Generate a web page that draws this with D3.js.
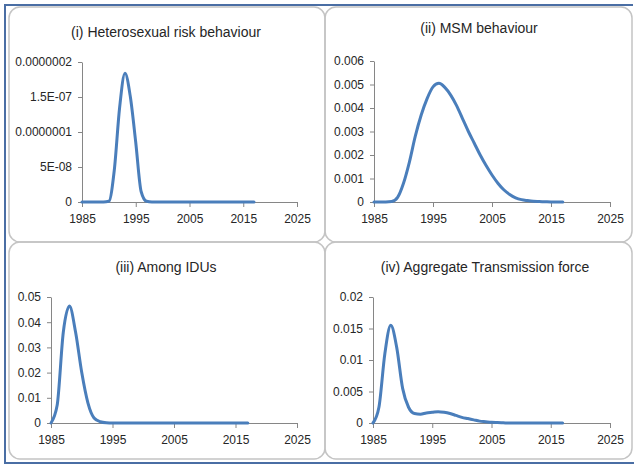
<!DOCTYPE html>
<html>
<head>
<meta charset="utf-8">
<script src="https://cdn.jsdelivr.net/npm/d3@7/dist/d3.min.js"></script>
<style>
  body { margin: 0; background: #fff; }
  svg { display: block; font-family: "Liberation Sans", Arial, sans-serif; }
  .axis path, .axis line { stroke: #868686; }
  .axis text { fill: #262626; font-size: 12px; }
  .title { fill: #262626; font-size: 14px; }
</style>
</head>
<body>
<svg id="chart" width="634" height="465"></svg>
<script>
// years on the x axis, one value per year
var years = [1985, 1986, 1987, 1988, 1989, 1990, 1991, 1992, 1993, 1994,
             1995, 1996, 1997, 1998, 1999, 2000, 2001, 2002, 2003, 2004,
             2005, 2006, 2007, 2008, 2009, 2010, 2011, 2012, 2013, 2014,
             2015, 2016, 2017];

var xTicks = [1985, 1995, 2005, 2015, 2025];

// (i) heterosexual risk behaviour
var hetero = [0, 0, 0, 0, 0, 1e-9, 4.5e-8, 1.35e-7, 1.84e-7, 1.5e-7,
              8.5e-8, 1.5e-8, 1e-9, 0, 0, 0, 0, 0, 0, 0,
              0, 0, 0, 0, 0, 0, 0, 0, 0, 0,
              0, 0, 0];
var heteroTicks = [0, 5e-8, 1e-7, 1.5e-7, 2e-7];
var heteroLabels = ["0", "5E-08", "0.0000001", "1.5E-07", "0.0000002"];

// (ii) MSM behaviour
var msm = [0, 0, 0, 0.00002, 0.0002, 0.0008, 0.0017, 0.0028, 0.0037, 0.0044,
           0.0049, 0.00505, 0.00488, 0.00455, 0.0041, 0.00355, 0.0030, 0.0025, 0.0020, 0.00155,
           0.00115, 0.0008, 0.00052, 0.00032, 0.00018, 0.0001, 0.00006, 0.00003, 0.00002, 0.00001,
           0, 0, 0];
var msmTicks = [0, 0.001, 0.002, 0.003, 0.004, 0.005, 0.006];
var msmLabels = ["0", "0.001", "0.002", "0.003", "0.004", "0.005", "0.006"];

// (iii) among IDUs
var idu = [0, 0.007, 0.036, 0.0464, 0.036, 0.020, 0.008, 0.002, 0.0005, 0.0001,
           0, 0, 0, 0, 0, 0, 0, 0, 0, 0,
           0, 0, 0, 0, 0, 0, 0, 0, 0, 0,
           0, 0, 0];
var iduTicks = [0, 0.01, 0.02, 0.03, 0.04, 0.05];
var iduLabels = ["0", "0.01", "0.02", "0.03", "0.04", "0.05"];

// (iv) aggregate transmission force
var aggregate = [0, 0.0025, 0.011, 0.0155, 0.012, 0.0055, 0.0025, 0.0015, 0.0014, 0.0016,
                 0.0017, 0.0018, 0.0017, 0.0015, 0.0012, 0.0009, 0.0007, 0.0005, 0.0003, 0.0002,
                 0.0001, 0.00006, 0.00003, 0, 0, 0, 0, 0, 0, 0,
                 0, 0, 0];
var aggTicks = [0, 0.005, 0.01, 0.015, 0.02];
var aggLabels = ["0", "0.005", "0.01", "0.015", "0.02"];

var svg = d3.select("#chart");

// outer frame (blue on top, left and bottom)
svg.append("path")
	.attr("d", "M633,5 L5,5 L5,463 L634,463")
	.attr("fill", "none")
	.attr("stroke", "#4a6ea4")
	.attr("stroke-width", 2);

// the four rounded panel frames
var frames = [
	{ x: 9, y: 7, w: 316, h: 235 },
	{ x: 325, y: 7, w: 307, h: 235 },
	{ x: 9, y: 242, w: 316, h: 217 },
	{ x: 325, y: 242, w: 307, h: 217 }
];
svg.selectAll("rect.frame")
	.data(frames)
	.enter().append("rect")
	.attr("class", "frame")
	.attr("x", function(d) { return d.x; })
	.attr("y", function(d) { return d.y; })
	.attr("width", function(d) { return d.w; })
	.attr("height", function(d) { return d.h; })
	.attr("rx", 11)
	.attr("fill", "none")
	.attr("stroke", "#c4c4c4")
	.attr("stroke-width", 1.5);

function drawPanel(p) {
	/* Draws one small line chart: title, axes and the smoothed series. */
	var x = d3.scaleLinear().domain([1985, 2025]).range([p.left, p.right]);
	var y = d3.scaleLinear().domain([0, p.yTicks[p.yTicks.length - 1]]).range([p.bottom, p.top]);

	svg.append("text")
		.attr("class", "title")
		.attr("x", p.titleX)
		.attr("y", p.titleY)
		.attr("text-anchor", "middle")
		.text(p.title);

	svg.append("g")
		.attr("class", "axis")
		.attr("transform", "translate(0," + p.bottom + ")")
		.call(d3.axisBottom(x).tickValues(xTicks).tickFormat(d3.format("d"))
			.tickSize(5).tickSizeOuter(0).tickPadding(7));

	svg.append("g")
		.attr("class", "axis")
		.attr("transform", "translate(" + p.left + ",0)")
		.call(d3.axisLeft(y).tickValues(p.yTicks)
			.tickFormat(function(d, i) { return p.labels[i]; })
			.tickSize(4).tickSizeOuter(0).tickPadding(6));

	svg.selectAll(".axis .domain").attr("stroke", "#868686");
	svg.selectAll(".axis text").attr("font-family", null).attr("font-size", null);

	var line = d3.line()
		.x(function(d, i) { return x(years[i]); })
		.y(function(d) { return y(d); })
		.curve(d3.curveMonotoneX);

	svg.append("path")
		.datum(p.values)
		.attr("fill", "none")
		.attr("stroke", "#4a7ebb")
		.attr("stroke-width", 3)
		.attr("stroke-linejoin", "round")
		.attr("stroke-linecap", "round")
		.attr("d", line);
}

drawPanel({ title: "(i) Heterosexual risk behaviour", titleX: 166, titleY: 37,
	left: 82, right: 297, top: 62, bottom: 202,
	yTicks: heteroTicks, labels: heteroLabels, values: hetero });
drawPanel({ title: "(ii) MSM behaviour", titleX: 479, titleY: 33,
	left: 374, right: 610, top: 61, bottom: 202,
	yTicks: msmTicks, labels: msmLabels, values: msm });
drawPanel({ title: "(iii) Among IDUs", titleX: 166, titleY: 272,
	left: 51, right: 297, top: 297, bottom: 423,
	yTicks: iduTicks, labels: iduLabels, values: idu });
drawPanel({ title: "(iv) Aggregate Transmission force", titleX: 485, titleY: 272,
	left: 373, right: 610, top: 297, bottom: 423,
	yTicks: aggTicks, labels: aggLabels, values: aggregate });
</script>
</body>
</html>
